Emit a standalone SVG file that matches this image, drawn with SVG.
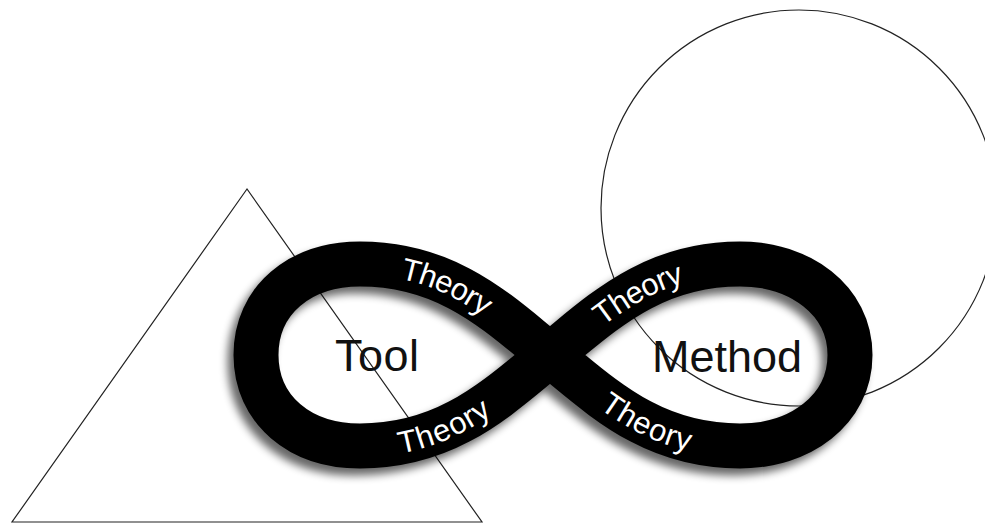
<svg xmlns="http://www.w3.org/2000/svg" width="985" height="527" viewBox="0 0 985 527">
<style>
.outline{fill:none;stroke:#222;stroke-width:1.2}
.band{fill:none;stroke:#000;stroke-width:45;stroke-linejoin:round}
.big{font-family:"Liberation Sans",Arial,sans-serif;font-size:45px;fill:#111}
.th{font-family:"Liberation Sans",Arial,sans-serif;font-size:31px;fill:#fff}
</style>
<defs>
<filter id="shadow" x="-20%" y="-30%" width="140%" height="160%">
<feGaussianBlur in="SourceAlpha" stdDeviation="4" result="b"/>
<feOffset in="b" dx="-6" dy="7" result="o"/>
<feComponentTransfer in="o" result="s"><feFuncA type="linear" slope="0.6"/></feComponentTransfer>
<feMerge><feMergeNode in="s"/><feMergeNode in="SourceGraphic"/></feMerge>
</filter>
<path id="pUL" d="M360,264 C450,264 500,315 550,355"/>
<path id="pUR" d="M550,355 C600,315 650,264 740,264"/>
<path id="pLL" d="M360,446 C450,446 500,395 550,355"/>
<path id="pLR" d="M550,355 C600,395 650,446 740,446"/>
</defs>
<rect width="985" height="527" fill="#fff"/>
<g id="triangle"><polygon class="outline" points="247,189 12,522 482,522"/></g>
<g id="circle"><circle class="outline" cx="799" cy="208" r="198"/></g>
<g id="infinity" filter="url(#shadow)">
<path class="band" d="M550,355 C600,315 650,264 740,264 C800,264 850,300 850,355 C850,410 800,446 740,446 C650,446 600,395 550,355 C500,315 450,264 360,264 C300,264 256,300 256,355 C256,410 300,446 360,446 C450,446 500,395 550,355 Z"/>
</g>
<g id="theory-labels">
<text class="th" dy="11" text-anchor="middle"><textPath href="#pUL" startOffset="42%">Theory</textPath></text>
<text class="th" dy="11" text-anchor="middle"><textPath href="#pUR" startOffset="50%">Theory</textPath></text>
<text class="th" dy="11" text-anchor="middle"><textPath href="#pLL" startOffset="40%">Theory</textPath></text>
<text class="th" dy="11" text-anchor="middle"><textPath href="#pLR" startOffset="55%">Theory</textPath></text>
</g>
<g id="tool"><text class="big" x="335" y="371" textLength="84">Tool</text></g>
<g id="method"><text class="big" x="652" y="372">Method</text></g>
</svg>
